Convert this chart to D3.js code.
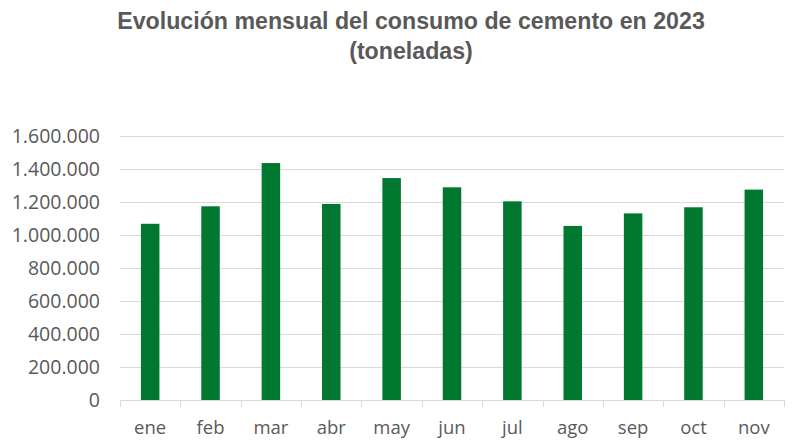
<!DOCTYPE html>
<html><head><meta charset="utf-8">
<script src="https://cdn.jsdelivr.net/npm/d3@7"></script>
<style>body{margin:0;background:#fff}svg{display:block}</style>
</head><body>
<svg id="c" width="800" height="445"></svg>
<script>
const categories = ["ene","feb","mar","abr","may","jun","jul","ago","sep","oct","nov"];
const values = [1068000,1174000,1436000,1188000,1345000,1289000,1204000,1055000,1131000,1168000,1275000];
const yTicks = [0,200000,400000,600000,800000,1000000,1200000,1400000,1600000];
const titleLines = ["Evolución mensual del consumo de cemento en 2023","(toneladas)"];

const svg = d3.select("#c");
const W=800,H=445;
const m={left:120,right:16,top:136,bottom:45};
const xb=d3.scaleBand().domain(categories).range([m.left,W-m.right]);
const y=d3.scaleLinear().domain([0,1600000]).range([H-m.bottom,m.top]);
const fmt=v=>v===0?"0":d3.format(",")(v).replace(/,/g,".");

svg.append("g").selectAll("text").data(titleLines).join("text")
  .attr("x",411).attr("y",(d,i)=>29+i*30).attr("text-anchor","middle")
  .attr("font-family","Liberation Sans, Arial, sans-serif").attr("font-weight","bold")
  .attr("font-size",23.2).attr("fill","#595959").text(d=>d);

// gridlines
svg.append("g").selectAll("line").data(yTicks.filter(d=>d>0)).join("line")
  .attr("x1",m.left).attr("x2",W-m.right).attr("y1",d=>Math.round(y(d))+0.5).attr("y2",d=>Math.round(y(d))+0.5)
  .attr("stroke","#d9d9d9").attr("stroke-width",1);

// y labels
const yAxis=svg.append("g").attr("transform",`translate(${m.left-20},0)`)
  .call(d3.axisLeft(y).tickValues(yTicks).tickFormat(fmt).tickSize(0).tickPadding(0));
yAxis.select(".domain").remove();
yAxis.selectAll("text").attr("font-family","Open Sans, sans-serif").attr("font-size",19.5).attr("fill","#595959");

// bars
svg.append("g").selectAll("rect").data(values).join("rect")
  .attr("x",(d,i)=>xb(categories[i])+xb.bandwidth()/2-9.25).attr("width",18.5)
  .attr("y",d=>y(d)).attr("height",d=>y(0)-y(d)).attr("fill","#00782f");

// x axis
const xAxis=svg.append("g").attr("transform",`translate(0,${y(0)})`)
  .call(d3.axisBottom(xb).tickSize(0).tickPadding(21));
xAxis.select(".domain").attr("stroke","#d9d9d9");
xAxis.selectAll("text").attr("font-family","Open Sans, sans-serif").attr("font-size",18.5).attr("fill","#595959");
svg.append("g").selectAll("line").data(d3.range(categories.length+1)).join("line")
  .attr("x1",i=>Math.round(m.left+i*xb.step())+0.5).attr("x2",i=>Math.round(m.left+i*xb.step())+0.5)
  .attr("y1",y(0)).attr("y2",y(0)+7).attr("stroke","#d9d9d9");
</script>
</body></html>
